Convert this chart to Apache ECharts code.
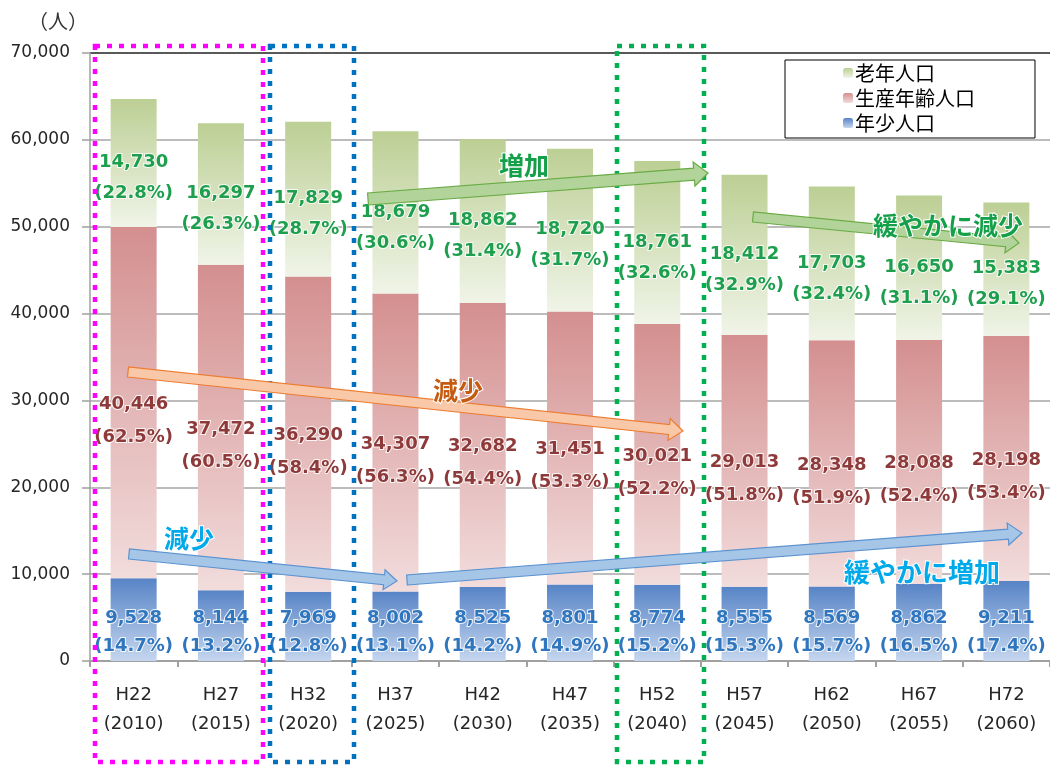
<!DOCTYPE html>
<html>
<head>
<meta charset="utf-8">
<script src="https://cdn.jsdelivr.net/npm/echarts@6/dist/echarts.min.js"></script>
<style>
  html, body { margin: 0; padding: 0; background: #fff; }
  #chart { width: 1050px; height: 767px; }
</style>
</head>
<body>
<div id="chart"></div>
<script>
// 年次（元号・西暦）
const categories = [
  "H22\n(2010)", "H27\n(2015)", "H32\n(2020)", "H37\n(2025)", "H42\n(2030)", "H47\n(2035)",
  "H52\n(2040)", "H57\n(2045)", "H62\n(2050)", "H67\n(2055)", "H72\n(2060)"
];
// 年少人口
const youngPop = [9528, 8144, 7969, 8002, 8525, 8801, 8774, 8555, 8569, 8862, 9211];
const youngPct = [14.7, 13.2, 12.8, 13.1, 14.2, 14.9, 15.2, 15.3, 15.7, 16.5, 17.4];
// 生産年齢人口
const workPop = [40446, 37472, 36290, 34307, 32682, 31451, 30021, 29013, 28348, 28088, 28198];
const workPct = [62.5, 60.5, 58.4, 56.3, 54.4, 53.3, 52.2, 51.8, 51.9, 52.4, 53.4];
// 老年人口
const oldPop = [14730, 16297, 17829, 18679, 18862, 18720, 18761, 18412, 17703, 16650, 15383];
const oldPct = [22.8, 26.3, 28.7, 30.6, 31.4, 31.7, 32.6, 32.9, 32.4, 31.1, 29.1];
// 総人口
const totalPop = [64704, 61913, 62088, 60989, 60069, 58971, 57556, 55980, 54619, 53600, 52792];
const yTicks = [0, 10000, 20000, 30000, 40000, 50000, 60000, 70000];

const NUM_FONT = "DejaVu Sans";
const JP_FONT = "Noto Sans CJK JP";
const fmt = v => v.toLocaleString("en-US");

const grad = (top, bottom) => new echarts.graphic.LinearGradient(0, 0, 0, 1, [
  { offset: 0, color: top },
  { offset: 1, color: bottom }
]);

function segLabel(values, pcts, color, lineHeight, extra) {
  return Object.assign({
    show: true,
    position: "inside",
    fontFamily: NUM_FONT,
    fontWeight: "bold",
    fontSize: 18,
    lineHeight: lineHeight,
    color: color,
    textBorderColor: "rgba(255,255,255,0.85)",
    textBorderWidth: 2,
    formatter: p => fmt(values[p.dataIndex]) + "\n(" + pcts[p.dataIndex].toFixed(1) + "%)"
  }, extra || {});
}

// ブロック矢印の頂点
function arrowPts(x1, y1, x2, y2, w, hw, hl) {
  const dx = x2 - x1, dy = y2 - y1, L = Math.hypot(dx, dy);
  const ux = dx / L, uy = dy / L, nx = -uy, ny = ux;
  const bx = x2 - ux * hl, by = y2 - uy * hl;
  return [
    [x1 + nx * w / 2, y1 + ny * w / 2],
    [bx + nx * w / 2, by + ny * w / 2],
    [bx + nx * hw / 2, by + ny * hw / 2],
    [x2, y2],
    [bx - nx * hw / 2, by - ny * hw / 2],
    [bx - nx * w / 2, by - ny * w / 2],
    [x1 - nx * w / 2, y1 - ny * w / 2]
  ];
}

function arrow(x1, y1, x2, y2, w, hw, hl, fill, stroke) {
  return {
    type: "polygon",
    z: 100,
    shape: { points: arrowPts(x1, y1, x2, y2, w, hw, hl) },
    style: { fill: fill, stroke: stroke, lineWidth: 1.2 }
  };
}

function note(text, cx, cy, color, size) {
  return {
    type: "text",
    z: 101,
    x: cx,
    y: cy,
    style: {
      text: text,
      fill: color,
      font: "bold " + size + "px '" + JP_FONT + "'",
      align: "center",
      verticalAlign: "middle",
      stroke: "#fff",
      lineWidth: 2
    }
  };
}

function dotBox(x1, y1, x2, y2, color, w, dash) {
  return {
    type: "rect",
    z: 99,
    shape: { x: x1, y: y1, width: x2 - x1, height: y2 - y1 },
    style: { fill: null, stroke: color, lineWidth: w, lineDash: dash }
  };
}

const myChart = echarts.init(document.getElementById("chart"));

const option = {
  backgroundColor: "#fff",
  animation: false,
  grid: { left: 90, top: 53, width: 964, height: 608 },
  legend: {
    orient: "vertical",
    left: 785,
    top: 60,
    padding: [3, 60, 5, 58],
    itemGap: 5,
    itemWidth: 10,
    itemHeight: 10,
    backgroundColor: "#fff",
    borderColor: "#000",
    borderWidth: 1,
    borderRadius: 0,
    textStyle: { fontFamily: JP_FONT, fontSize: 20, color: "#000", lineHeight: 20, padding: [0, 0, 0, -3] },
    data: ["老年人口", "生産年齢人口", "年少人口"],
    z: 120
  },
  xAxis: {
    type: "category",
    data: categories,
    axisLine: { lineStyle: { color: "#a0a0a0", width: 2 } },
    axisTick: { show: true, length: 6, lineStyle: { color: "#a0a0a0", width: 2 } },
    axisLabel: {
      interval: 0,
      margin: 20,
      fontFamily: NUM_FONT,
      fontSize: 18,
      lineHeight: 29,
      color: "#262626"
    }
  },
  yAxis: {
    type: "value",
    min: 0,
    max: 70000,
    interval: 10000,
    name: "（人）",
    nameLocation: "end",
    nameGap: 22,
    nameTextStyle: { fontFamily: JP_FONT, fontSize: 20, color: "#333", align: "right", padding: [0, 2, 0, 0] },
    axisLine: { show: true, lineStyle: { color: "#a0a0a0", width: 1.5 } },
    axisTick: { show: true, length: 8, lineStyle: { color: "#a0a0a0", width: 1.5 } },
    axisLabel: {
      margin: 20,
      fontFamily: NUM_FONT,
      fontSize: 17,
      color: "#262626",
      formatter: v => fmt(v)
    },
    splitLine: {
      lineStyle: {
        color: yTicks.map(t => (t === 70000 ? "#222" : "#a6a6a6")),
        width: 1.6
      }
    }
  },
  series: [
    {
      name: "年少人口",
      type: "bar",
      stack: "pop",
      barWidth: 46,
      data: youngPop,
      itemStyle: { color: grad("#5784c6", "#c5d6ef") },
      label: segLabel(youngPop, youngPct, "#2f76be", 28, { position: "insideBottom", distance: 1 })
    },
    {
      name: "生産年齢人口",
      type: "bar",
      stack: "pop",
      barWidth: 46,
      data: workPop,
      itemStyle: { color: grad("#d48f8f", "#f2dcdc") },
      label: segLabel(workPop, workPct, "#8e3a3a", 33, { offset: [0, 18] })
    },
    {
      name: "老年人口",
      type: "bar",
      stack: "pop",
      barWidth: 46,
      data: oldPop,
      itemStyle: { color: grad("#bccf94", "#f0f4e8") },
      label: segLabel(oldPop, oldPct, "#1d9f4d", 31, { offset: [0, 15] })
    },
    {
      name: "総人口",
      type: "scatter",
      data: totalPop,
      symbolSize: 1,
      itemStyle: { opacity: 0 },
      label: {
        show: true,
        position: "top",
        distance: 6,
        fontFamily: NUM_FONT,
        fontWeight: "bold",
        fontSize: 18,
        color: "#111",
        formatter: p => fmt(totalPop[p.dataIndex])
      },
      z: 5
    }
  ],
  graphic: [
    dotBox(95, 46, 263, 762, "#ff00ff", 4.5, [5, 7]),
    dotBox(270, 46, 354, 762, "#0070c0", 4.5, [5, 7]),
    dotBox(617, 46, 704, 762, "#00b050", 4.5, [5, 7]),
    arrow(368, 199, 708, 173, 12, 24, 14, "#b2d49a", "#6aab45"),
    arrow(753, 217, 1019, 243, 10, 22, 13, "#b2d49a", "#6aab45"),
    arrow(128, 372, 683, 431, 10, 22, 14, "#f8c8a8", "#ed7d31"),
    arrow(129, 554, 397, 581, 10, 20, 13, "#a6c6e8", "#5b93d0"),
    arrow(407, 580, 1022, 533, 10, 22, 14, "#a6c6e8", "#5b93d0"),
    note("増加", 524, 165, "#13a048", 25),
    note("緩やかに減少", 948, 225, "#13a048", 25),
    note("減少", 458, 390, "#c55a11", 25),
    note("減少", 189, 538, "#00a9ea", 25),
    note("緩やかに増加", 922, 572, "#00a9ea", 26)
  ]
};

myChart.setOption(option);
</script>
</body>
</html>
